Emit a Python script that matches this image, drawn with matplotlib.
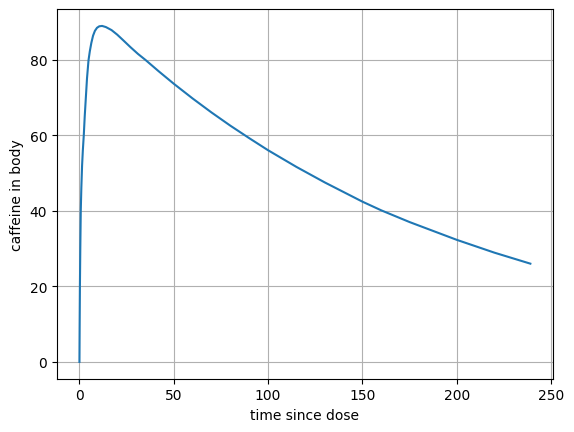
import matplotlib
matplotlib.use("Agg")
import matplotlib.pyplot as plt

# caffeine amount
time = [0, 0.1, 0.25, 0.45, 0.7, 1.0, 1.4, 1.8, 2.3, 2.8, 3.4, 4.0, 4.8,
        5.5, 6.3, 7.2, 8.2, 9.3, 10.5, 12, 14, 17, 20, 23, 27, 31, 35, 42,
        50, 60, 70, 80, 90, 100, 115, 130, 150, 160, 175, 200, 220, 239]
caffeine = [0, 9, 20, 30, 40, 46, 52, 56, 60, 65, 70, 75, 79.8,
            82.2, 84.4, 86.3, 87.6, 88.4, 88.8, 88.9, 88.6, 87.8, 86.6, 85.2,
            83.3, 81.5, 79.9, 76.9, 73.6, 69.7, 66.0, 62.5, 59.2, 56.0, 51.6,
            47.5, 42.4, 40.1, 37.0, 32.3, 28.9, 26.0]

fig = plt.figure(figsize=(6.4, 4.8), dpi=100)
plt.plot(time, caffeine)
plt.xlabel("time since dose")
plt.ylabel("caffeine in body")
plt.grid(True)
plt.savefig("out.png", dpi=100, bbox_inches="tight")
